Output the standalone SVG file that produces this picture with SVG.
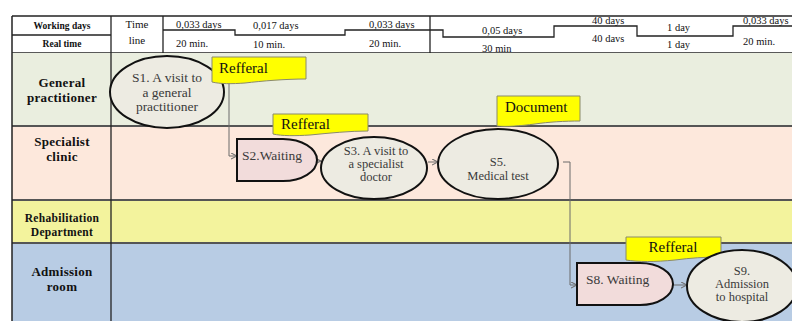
<svg xmlns="http://www.w3.org/2000/svg" width="792" height="321" viewBox="0 0 792 321">
<defs>
<style>
.hd{font-family:"Liberation Serif",serif;font-size:10.5px;fill:#111}
.hb{font-family:"Liberation Serif",serif;font-size:9.5px;font-weight:bold;fill:#111;text-anchor:middle}
.ln{font-family:"Liberation Serif",serif;font-size:13px;font-weight:bold;fill:#111;text-anchor:middle;letter-spacing:0.3px}
.nt{font-family:"Liberation Serif",serif;font-size:13.5px;fill:#3a3a3a;text-anchor:middle}
.sm{font-size:12.5px}
.st{text-anchor:start}
.ct{font-family:"Liberation Serif",serif;font-size:15px;fill:#111}
.ell{fill:#edebe2;stroke:#111;stroke-width:2}
.wait{fill:#f2dcdb;stroke:#111;stroke-width:2}
.call{fill:#ffff00;stroke:#8a8a6a;stroke-width:1}
.conn{fill:none;stroke:#6a6a6a;stroke-width:1}
.lane{stroke:none}
.sep{stroke:#555;stroke-width:2}
.tl{fill:none;stroke:#222;stroke-width:1.3}
</style>
<marker id="arr" viewBox="0 0 8 8" refX="7" refY="4" markerWidth="7" markerHeight="7" orient="auto" markerUnits="userSpaceOnUse">
<path d="M0,0.5 L7,4 L0,7.5" fill="none" stroke="#6a6a6a" stroke-width="1.2"/>
</marker>
</defs>
<rect width="792" height="321" fill="#ffffff"/>

<g id="header">
<line x1="12" y1="16" x2="792" y2="16" stroke="#222" stroke-width="1.3"/>
<line x1="12" y1="53" x2="792" y2="53" stroke="#222" stroke-width="1.3"/>
<line x1="12" y1="35" x2="111" y2="35" stroke="#222" stroke-width="1.3"/>
<line x1="163" y1="16" x2="163" y2="53" stroke="#222" stroke-width="1.3"/>
<line x1="430" y1="16" x2="430" y2="53" stroke="#222" stroke-width="1.3"/>
<text class="hb" x="62" y="29">Working days</text>
<text class="hb" x="62" y="47">Real time</text>
<text class="hd" x="137" y="28" text-anchor="middle" style="font-size:11px;text-anchor:middle">Time</text>
<text class="hd" x="137" y="44" text-anchor="middle" style="font-size:11px;text-anchor:middle">line</text>
<path class="tl" d="M163,30 H235 V35 H345 V30 H443 V37 H554 V26 H637 V36 H733 V26 H792"/>
<text class="hd" x="176" y="28">0,033 days</text>
<text class="hd" x="253" y="29">0,017 days</text>
<text class="hd" x="369" y="28">0,033 days</text>
<text class="hd" x="176" y="47">20 min.</text>
<text class="hd" x="253" y="48">10 min.</text>
<text class="hd" x="369" y="47">20 min.</text>
<text class="hd" x="482" y="34">0,05 days</text>
<text class="hd" x="482" y="52">30 min</text>
<text class="hd" x="592" y="24">40 days</text>
<text class="hd" x="592" y="42">40 davs</text>
<text class="hd" x="667" y="31">1 day</text>
<text class="hd" x="667" y="48">1 day</text>
<text class="hd" x="743" y="24">0,033 days</text>
<text class="hd" x="743" y="45">20 min.</text>
</g>

<g id="lanes">
<rect class="lane" x="12" y="53" width="780" height="73" fill="#eaeedf"/>
<rect class="lane" x="12" y="126" width="780" height="74" fill="#fde8dc"/>
<rect class="lane" x="12" y="200" width="780" height="43" fill="#f3f39d"/>
<rect class="lane" x="12" y="243" width="780" height="78" fill="#b8cce4"/>
<line class="sep" x1="12" y1="126" x2="792" y2="126"/>
<line class="sep" x1="12" y1="200" x2="792" y2="200"/>
<line class="sep" x1="12" y1="243" x2="792" y2="243"/>
<line x1="12" y1="16" x2="12" y2="321" stroke="#222" stroke-width="1.5"/>
<line x1="111" y1="16" x2="111" y2="321" stroke="#222" stroke-width="1.3"/>
<text class="ln" x="62" y="87">General</text>
<text class="ln" x="62" y="102">practitioner</text>
<text class="ln" x="62" y="146">Specialist</text>
<text class="ln" x="62" y="161">clinic</text>
<text class="ln" x="62" y="222" style="font-size:11.5px">Rehabilitation</text>
<text class="ln" x="62" y="236" style="font-size:11.5px">Department</text>
<text class="ln" x="62" y="276">Admission</text>
<text class="ln" x="62" y="291">room</text>
</g>

<g id="connectors">
<path class="conn" d="M229,83 V156 H237" marker-end="url(#arr)"/>
<path class="conn" d="M317,161 H321" marker-end="url(#arr)"/>
<path class="conn" d="M428,162 H438" marker-end="url(#arr)"/>
<path class="conn" d="M563,162 H570 V285 H577" marker-end="url(#arr)"/>
<path class="conn" d="M673,285 H687" marker-end="url(#arr)"/>
</g>

<g id="S1">
<ellipse class="ell" cx="167" cy="92" rx="57" ry="36"/>
<text class="nt" x="167" y="82">S1. A visit to</text>
<text class="nt" x="167" y="97">a general</text>
<text class="nt" x="167" y="111">practitioner</text>
</g>

<g id="callout1">
<path class="call" d="M212,57 H306 V79 C285,79 262,81 245,83 C232,84 220,84 212,82 Z"/>
<text class="ct" x="219" y="73">Refferal</text>
</g>

<g id="S2">
<path class="wait" d="M237,139 H283 A34,21 0 0 1 283,181 H237 Z"/>
<text class="nt st" x="242" y="160">S2.Waiting</text>
</g>

<g id="callout2">
<path class="call" d="M273,114 H368 V131 C350,131 330,133 310,135 C295,136 282,136 273,134 Z"/>
<text class="ct" x="281" y="129">Refferal</text>
</g>

<g id="S3">
<ellipse class="ell" cx="374" cy="168" rx="53" ry="31"/>
<text class="nt sm" x="376" y="155">S3. A visit to</text>
<text class="nt sm" x="376" y="168">a specialist</text>
<text class="nt sm" x="376" y="181">doctor</text>
</g>

<g id="callout3">
<path class="call" d="M497,96 H580 V121 C565,121 548,122 535,124 C520,126 505,127 497,126 Z"/>
<text class="ct" x="505" y="112">Document</text>
</g>

<g id="S5">
<ellipse class="ell" cx="498" cy="164" rx="60" ry="35"/>
<text class="nt sm" x="498" y="166">S5.</text>
<text class="nt sm" x="498" y="180">Medical test</text>
</g>

<g id="S8">
<path class="wait" d="M577,263 H640 A33,21 0 0 1 640,305 H577 Z"/>
<text class="nt st" x="586" y="284">S8. Waiting</text>
</g>

<g id="callout4">
<path class="call" d="M626,237 H721 V257 C705,257 690,258 675,260 C655,262 638,262 626,260 Z"/>
<text class="ct" x="673" y="252" style="text-anchor:middle">Refferal</text>
</g>

<g id="S9">
<ellipse class="ell" cx="742" cy="286" rx="55" ry="36"/>
<text class="nt sm" x="742" y="275">S9.</text>
<text class="nt sm" x="742" y="288">Admission</text>
<text class="nt sm" x="742" y="301">to hospital</text>
</g>
</svg>
